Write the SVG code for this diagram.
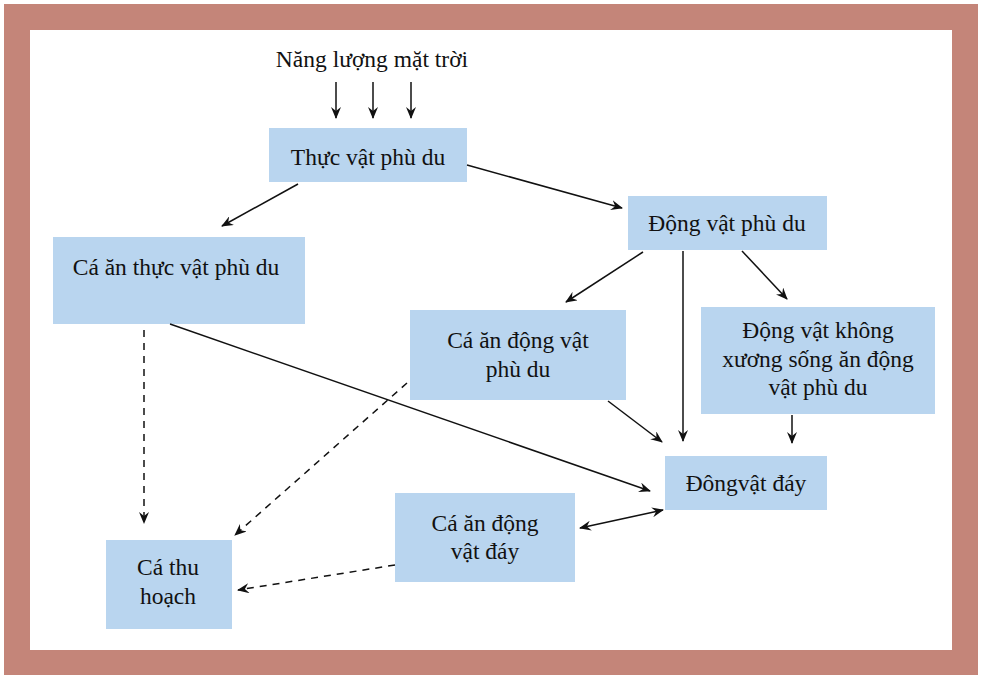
<svg xmlns="http://www.w3.org/2000/svg" width="982" height="675" viewBox="0 0 982 675">
<defs>
<style>
.box{fill:#B9D5EF}
text{font-family:'Liberation Serif','Times New Roman',serif;font-size:23.5px;fill:#111;text-anchor:middle}
.c{stroke:#111;stroke-width:1.5;fill:none;marker-end:url(#ah)}
.d{stroke-dasharray:7,6}
</style>
<marker id="ah" viewBox="0 0 12 10" refX="11" refY="5" markerWidth="12" markerHeight="10" markerUnits="userSpaceOnUse" orient="auto-start-reverse">
<path d="M0,0 L12,5 L0,10 L4,5 z" fill="#111"/>
</marker>
</defs>
<rect x="0" y="0" width="982" height="675" fill="#fff"/>
<rect x="17" y="17" width="948" height="646" fill="none" stroke="#C48579" stroke-width="26"/>
<text x="372" y="67" font-family="Liberation Serif">Năng lượng mặt trời</text>
<g id="n1"><rect class="box" x="269" y="128" width="198" height="54"/><text x="368" y="165" font-family="Liberation Serif">Thực vật phù du</text></g>
<g id="n2"><rect class="box" x="628" y="196" width="199" height="54"/><text x="727" y="231" font-family="Liberation Serif">Động vật phù du</text></g>
<g id="n3"><rect class="box" x="53" y="237" width="252" height="87"/><text x="176" y="275" font-family="Liberation Serif">Cá ăn thực vật phù du</text></g>
<g id="n4"><rect class="box" x="410" y="310" width="216" height="90"/><text x="518" y="348" font-family="Liberation Serif">Cá ăn động vật</text><text x="518" y="377" font-family="Liberation Serif">phù du</text></g>
<g id="n5"><rect class="box" x="701" y="307" width="234" height="107"/><text x="818" y="338" font-family="Liberation Serif">Động vật không</text><text x="818" y="367" font-family="Liberation Serif">xương sống ăn động</text><text x="818" y="395" font-family="Liberation Serif">vật phù du</text></g>
<g id="n6"><rect class="box" x="665" y="456" width="162" height="54"/><text x="746" y="491" font-family="Liberation Serif">Đôngvật đáy</text></g>
<g id="n7"><rect class="box" x="395" y="493" width="180" height="89"/><text x="485" y="531" font-family="Liberation Serif">Cá ăn động</text><text x="485" y="559" font-family="Liberation Serif">vật đáy</text></g>
<g id="n8"><rect class="box" x="106" y="540" width="126" height="89"/><text x="168" y="575" font-family="Liberation Serif">Cá thu</text><text x="168" y="604" font-family="Liberation Serif">hoạch</text></g>
<g id="connectors">
<line class="c" x1="336" y1="82" x2="336" y2="118"/>
<line class="c" x1="373" y1="82" x2="373" y2="118"/>
<line class="c" x1="411" y1="82" x2="411" y2="118"/>
<line class="c" x1="467" y1="165" x2="622" y2="208"/>
<line class="c" x1="298" y1="184" x2="222" y2="226"/>
<line class="c" x1="643" y1="252" x2="566" y2="302"/>
<line class="c" x1="742" y1="251" x2="787" y2="299"/>
<line class="c" x1="683" y1="251" x2="683" y2="441"/>
<line class="c" x1="608" y1="401" x2="662" y2="442"/>
<line class="c" x1="170" y1="324" x2="650" y2="491"/>
<line class="c" x1="792" y1="415" x2="792" y2="443"/>
<line class="c" x1="580" y1="528" x2="663" y2="510" style="marker-start:url(#ah)"/>
<line class="c d" x1="144" y1="330" x2="144" y2="523"/>
<line class="c d" x1="407" y1="383" x2="235" y2="535"/>
<line class="c d" x1="395" y1="565" x2="238" y2="590"/>
</g>
</svg>
